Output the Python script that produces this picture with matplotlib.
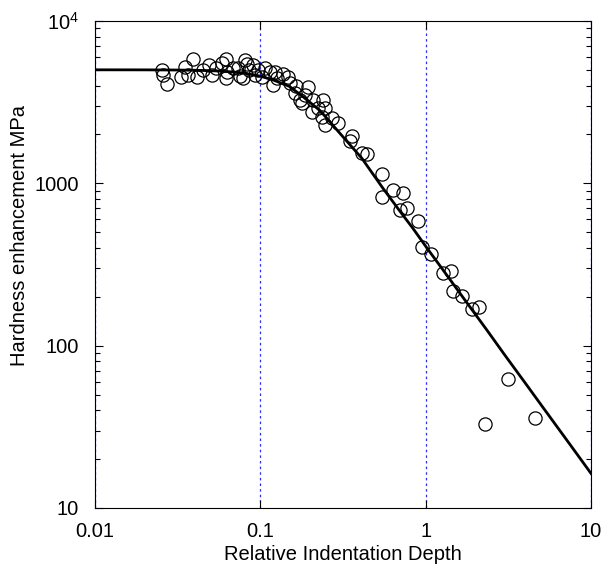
import matplotlib
matplotlib.use("Agg")
import matplotlib.pyplot as plt
from matplotlib.ticker import FixedLocator, FixedFormatter, LogLocator, NullLocator, NullFormatter

plt.rcParams['font.family'] = ['Liberation Sans', 'DejaVu Sans']
plt.rcParams['mathtext.fontset'] = 'custom'
plt.rcParams['mathtext.rm'] = 'Liberation Sans'
plt.rcParams['mathtext.default'] = 'regular'

# measured points (relative depth, hardness enhancement MPa)
depth = [0.0254, 0.0258, 0.0273, 0.0331, 0.0350, 0.0365, 0.0392, 0.0414, 0.0450, 0.0489,
         0.0510, 0.0587, 0.0620, 0.0629, 0.0620, 0.0733, 0.0754, 0.0808, 0.0785, 0.0831,
         0.0855, 0.0903, 0.0929, 0.1024, 0.1068, 0.1227, 0.1262, 0.1193, 0.1471, 0.1512,
         0.1622, 0.1944, 0.1739, 0.1788, 0.2084, 0.2395, 0.2055, 0.2462, 0.2362, 0.2462,
         0.2716, 0.2951, 0.3588, 0.3488, 0.4123, 0.4420, 0.5447, 0.6352, 0.730, 0.5447,
         0.700, 0.772, 0.899, 0.951, 1.078, 1.274, 1.424, 1.465, 1.660, 1.909,
         2.104, 3.151, 2.288, 4.588, 0.0540, 0.0684, 0.0969, 0.1145, 0.1372, 0.1644,
         0.2234, 0.1864]
hardness = [5000, 4656, 4093, 4529, 5212, 4656, 5836, 4529, 5000, 5364,
            4656, 5521, 5836, 4857, 4460, 5140, 4588, 5758, 4460, 5441,
            5000, 5364, 4656, 4529, 5140, 4857, 4460, 4039, 4529, 4155,
            3606, 3926, 3265, 3129, 3265, 3265, 2754, 2915, 2566, 2290,
            2529, 2356, 1959, 1825, 1539, 1518, 1143, 910, 873, 825,
            686, 705, 587, 406, 367, 280, 289, 217, 202, 168,
            173, 62.3, 32.9, 35.8, 5140, 5140, 5000, 4857, 4721, 3984,
            2915, 3505]

# fitted curve
fit_x = [0.01, 0.02, 0.03, 0.04, 0.05, 0.06, 0.07, 0.08, 0.1, 0.12,
         0.15, 0.18, 0.23, 0.3, 0.41, 0.55, 0.7, 0.84, 1.0, 1.3,
         1.7, 2.34, 3.0, 4.0, 5.0, 6.35, 8.0, 10]
fit_y = [5000, 4996, 4987, 4969, 4939, 4896, 4839, 4765, 4570, 4322,
         3950, 3432, 2800, 2053, 1430, 935, 671, 525, 409, 284,
         195, 125, 87.8, 58.8, 43.0, 30.8, 22.3, 16.3]

xticks = [0.01, 0.1, 1, 10]
xlabels = ["0.01", "0.1", "1", "10"]
yticks = [10, 100, 1000, 10000]
ylabels = ["10", "100", "1000", "$10^4$"]

fig = plt.figure(figsize=(6.05, 5.66), dpi=100)
ax = fig.add_axes([0.157, 0.1025, 0.820, 0.8605])

for xv in xticks:
    ax.axvline(xv, color="#2a2aff", linestyle=(0, (2, 2.5)), linewidth=0.9, zorder=1)

ax.plot(fit_x, fit_y, color="black", linewidth=2.0, zorder=3)
ax.plot(depth, hardness, linestyle="none", marker="o", markersize=9.5,
        markerfacecolor="none", markeredgecolor="black", markeredgewidth=0.9, zorder=4)

ax.set_xscale("log")
ax.set_yscale("log")
ax.set_xlim(0.01, 10)
ax.set_ylim(10, 10000)

ax.xaxis.set_major_locator(FixedLocator(xticks))
ax.xaxis.set_major_formatter(FixedFormatter(xlabels))
ax.xaxis.set_minor_locator(NullLocator())
ax.yaxis.set_major_locator(FixedLocator(yticks))
ax.yaxis.set_major_formatter(FixedFormatter(ylabels))
ax.yaxis.set_minor_locator(LogLocator(base=10, subs=range(2, 10)))
ax.yaxis.set_minor_formatter(NullFormatter())

ax.tick_params(which="both", direction="in", top=True, right=True, labelsize=14.5)
ax.tick_params(which="major", length=6, width=0.8)
ax.tick_params(which="minor", length=3.5, width=0.8)
ax.tick_params(axis="x", pad=10)
ax.tick_params(axis="y", pad=11.5)

ax.set_xlabel("Relative Indentation Depth", fontsize=14.5, labelpad=3)
ax.set_ylabel("Hardness enhancement MPa", fontsize=14.5)
ax.yaxis.set_label_coords(-0.133, 0.56)

fig.savefig("out.png", dpi=100)
